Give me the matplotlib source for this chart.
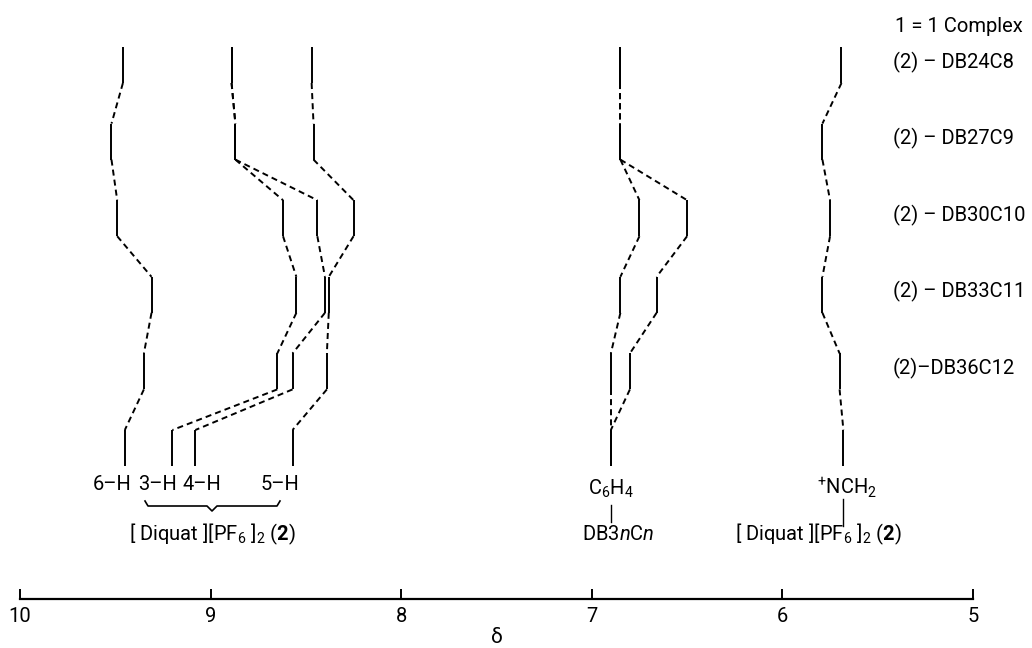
import matplotlib
matplotlib.use("Agg")
import matplotlib.pyplot as plt

plt.rcParams['font.family'] = ['Roboto', 'DejaVu Sans']
plt.rcParams['mathtext.fontset'] = 'custom'
plt.rcParams['mathtext.rm'] = 'Roboto'
plt.rcParams['mathtext.it'] = 'Roboto:italic'
plt.rcParams['mathtext.bf'] = 'Roboto:bold'

# ---------------- data (chemical shifts, delta / ppm) ----------------
# rows: 1:1 complexes of (2) with DB24C8 ... DB36C12, then free components
complexes = ["DB24C8", "DB27C9", "DB30C10", "DB33C11", "DB36C12"]
row_labels = ["(2) – DB24C8", "(2) – DB27C9", "(2) – DB30C10",
              "(2) – DB33C11", "(2)–DB36C12"]
shift_6H = [9.46, 9.52, 9.49, 9.31, 9.35, 9.45]
shift_3H = [8.89, 8.87, 8.62, 8.55, 8.65, 9.20]
shift_4H = [8.89, 8.87, 8.44, 8.40, 8.57, 9.08]
shift_5H = [8.47, 8.46, 8.25, 8.38, 8.39, 8.57]
shift_C6H4_a = [6.85, 6.85, 6.75, 6.85, 6.90, 6.90]
shift_C6H4_b = [6.85, 6.85, 6.50, 6.66, 6.80, 6.90]
shift_NCH2 = [5.69, 5.79, 5.75, 5.79, 5.70, 5.68]
axis_ticks = [10, 9, 8, 7, 6, 5]

# ---------------- layout ----------------
W, H = 1032, 648
fig = plt.figure(figsize=(W / 100, H / 100), dpi=100)
ax = fig.add_axes([20 / W, 49 / H, 953 / W, 599 / H])
ax.set_xlim(10, 5)
ax.set_ylim(599, 0)          # y measured in pixels from the top

def px2d(px):
    return 10 - (px - 20) / (953 / 5)

nrows = 6
row_top = [47 + i * 76.6 for i in range(nrows)]
seg_len = 36
lw = 1.4
dash = (3.1, 2.1)

series = [shift_6H, shift_3H, shift_4H, shift_5H,
          shift_C6H4_a, shift_C6H4_b, shift_NCH2]
for s in series:
    for i, v in enumerate(s):
        ax.plot([v, v], [row_top[i], row_top[i] + seg_len], color='black',
                lw=lw, solid_capstyle='butt')
        if i < nrows - 1:
            ax.plot([v, s[i + 1]], [row_top[i] + seg_len, row_top[i + 1]],
                    color='black', lw=lw, dashes=dash)

# ---------------- axis ----------------
for sp in ['top', 'left', 'right']:
    ax.spines[sp].set_visible(False)
ax.spines['bottom'].set_linewidth(1.6)
ax.set_yticks([])
ax.set_xticks(axis_ticks)
ax.set_xticklabels([str(t) for t in axis_ticks])
ax.tick_params(axis='x', direction='in', length=7, width=1.4, pad=6,
               labelsize=14.5)
ax.set_xlabel('δ', fontsize=15, labelpad=1)

# ---------------- labels ----------------
fs = 14.5
ax.text(px2d(895), 32, "1 = 1 Complex", fontsize=fs, ha='left', va='baseline')
for i, lab in enumerate(row_labels):
    ax.text(px2d(893), row_top[i] + seg_len / 2 + 3, lab, fontsize=fs,
            ha='left', va='baseline')

# free diquat labels
base_free = 490
ax.text(px2d(112), base_free, "6–H", fontsize=fs, ha='center', va='baseline')
ax.text(px2d(157.5), base_free, "3–H", fontsize=fs, ha='center', va='baseline')
ax.text(px2d(201.5), base_free, "4–H", fontsize=fs, ha='center', va='baseline')
ax.text(px2d(279.5), base_free, "5–H", fontsize=fs, ha='center', va='baseline')

# curly brace under 3-H ... 5-H
bl, br, tip = 145, 280, 212
bx = [bl, bl + 3, tip - 5, tip, tip + 5, br - 3, br]
by = [501, 506, 506, 511, 506, 506, 501]
ax.plot([px2d(v) for v in bx], by, color='black', lw=1.2, clip_on=False)

ax.text(px2d(212), 540, r"[ Diquat ][PF$_6$ ]$_2$ ($\mathbf{2}$)", fontsize=fs,
        ha='center', va='baseline')

# crown ether aromatic label
x_c6 = shift_C6H4_a[-1]
ax.text(x_c6, 495, r"C$_6$H$_4$", fontsize=fs, ha='center', va='baseline')
ax.plot([x_c6, x_c6], [505, 522], color='black', lw=1.0)
ax.text(x_c6 - 0.04, 540, r"DB3$\mathit{n}$C$\mathit{n}$", fontsize=fs,
        ha='center', va='baseline')

# NCH2 label
x_n = shift_NCH2[-1]
ax.text(x_n - 0.02, 495, r"${}^{+}$NCH$_2$", fontsize=fs, ha='center',
        va='baseline')
ax.plot([x_n, x_n], [499, 526], color='black', lw=1.0)
ax.text(px2d(818), 540, r"[ Diquat ][PF$_6$ ]$_2$ ($\mathbf{2}$)", fontsize=fs,
        ha='center', va='baseline')

fig.savefig("out.png", dpi=100)
